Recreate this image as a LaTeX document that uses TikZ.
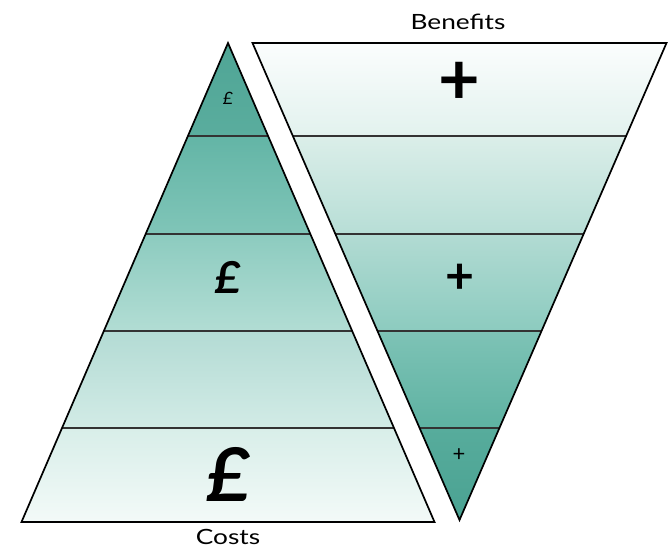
\documentclass[tikz,border=0pt]{standalone}
\usepackage{fontspec}
\setmainfont{Lato}
% band colours, top to bottom
\definecolor{costA}{HTML}{4FA595}
\definecolor{costB}{HTML}{5AAD9E}
\definecolor{costC}{HTML}{63B5A6}
\definecolor{costD}{HTML}{80C5B8}
\definecolor{costE}{HTML}{8CCBBF}
\definecolor{costF}{HTML}{B2DDD4}
\definecolor{costG}{HTML}{B3DBD4}
\definecolor{costH}{HTML}{D2EBE6}
\definecolor{costI}{HTML}{D8EEE9}
\definecolor{costJ}{HTML}{F3FAF8}
\definecolor{gainA}{HTML}{FBFDFD}
\definecolor{gainB}{HTML}{E2F2EE}
\definecolor{gainC}{HTML}{DBEEE9}
\definecolor{gainD}{HTML}{B7DED6}
\definecolor{gainE}{HTML}{B2DBD3}
\definecolor{gainF}{HTML}{8CCBBF}
\definecolor{gainG}{HTML}{7EC3B6}
\definecolor{gainH}{HTML}{5EB2A2}
\definecolor{gainI}{HTML}{57AC9C}
\definecolor{gainJ}{HTML}{4AA292}
\begin{document}
\begin{tikzpicture}[x=1pt, y=-1pt,
  divider/.style={line width=1.5pt, draw=black!80},
  outline/.style={line width=1.7pt, draw=black, line join=miter},
  heading/.style={inner sep=0pt, font=\fontsize{21}{21}\selectfont},
  sign/.style={inner sep=0pt}]
  \useasboundingbox (0,0) rectangle (669,548);

  % Corner points
  \coordinate (costTop) at (228,43);
  \coordinate (costLeft) at (21.5,522);
  \coordinate (costRight) at (434.5,522);
  \coordinate (gainLeft) at (252.5,43);
  \coordinate (gainRight) at (666.5,43);
  \coordinate (gainTip) at (459.5,520);

  % Costs pyramid
  \begin{scope}
    \clip (costTop) -- (costLeft) -- (costRight) -- cycle;
    \foreach \ya/\yb/\ct/\cb in {43/136/costA/costB, 136/234/costC/costD,
        234/331/costE/costF, 331/428/costG/costH, 428/522/costI/costJ}
      \shade[top color=\ct, bottom color=\cb] (0,\ya) rectangle (669,\yb);
    \foreach \y in {136,234,331,428}
      \draw[divider] (0,\y) -- (669,\y);
  \end{scope}
  \draw[outline] (costTop) -- (costLeft) -- (costRight) -- cycle;

  % Benefits funnel
  \begin{scope}
    \clip (gainLeft) -- (gainRight) -- (gainTip) -- cycle;
    \foreach \ya/\yb/\ct/\cb in {43/136/gainA/gainB, 136/234/gainC/gainD,
        234/331/gainE/gainF, 331/428/gainG/gainH, 428/520/gainI/gainJ}
      \shade[top color=\ct, bottom color=\cb] (0,\ya) rectangle (669,\yb);
    \foreach \y in {136,234,331,428}
      \draw[divider] (0,\y) -- (669,\y);
  \end{scope}
  \draw[outline] (gainLeft) -- (gainRight) -- (gainTip) -- cycle;

  % Titles
  \node[heading] (benefits) at (458,22) {\scalebox{1.25}[1]{Benefits}};
  \node[heading] (costs) at (228,537) {\scalebox{1.25}[1]{Costs}};

  % Signs
  \node[sign, font=\fontsize{72}{72}\selectfont\bfseries] (plusTop) at (459,83) {+};
  \node[sign, font=\fontsize{50}{50}\selectfont\bfseries] (plusMid) at (460,279) {+};
  \node[sign, font=\fontsize{22}{22}\selectfont] (plusLow) at (459,455) {+};
  \node[sign, font=\fontsize{17}{17}\selectfont\itshape] (poundTop) at (228,98) {£};
  \node[sign, font=\fontsize{44}{44}\selectfont\bfseries\itshape] (poundMid) at (228,277) {£};
  \node[sign, font=\fontsize{74}{74}\selectfont\bfseries\itshape] (poundLow) at (229,474) {£};
\end{tikzpicture}
\end{document}
